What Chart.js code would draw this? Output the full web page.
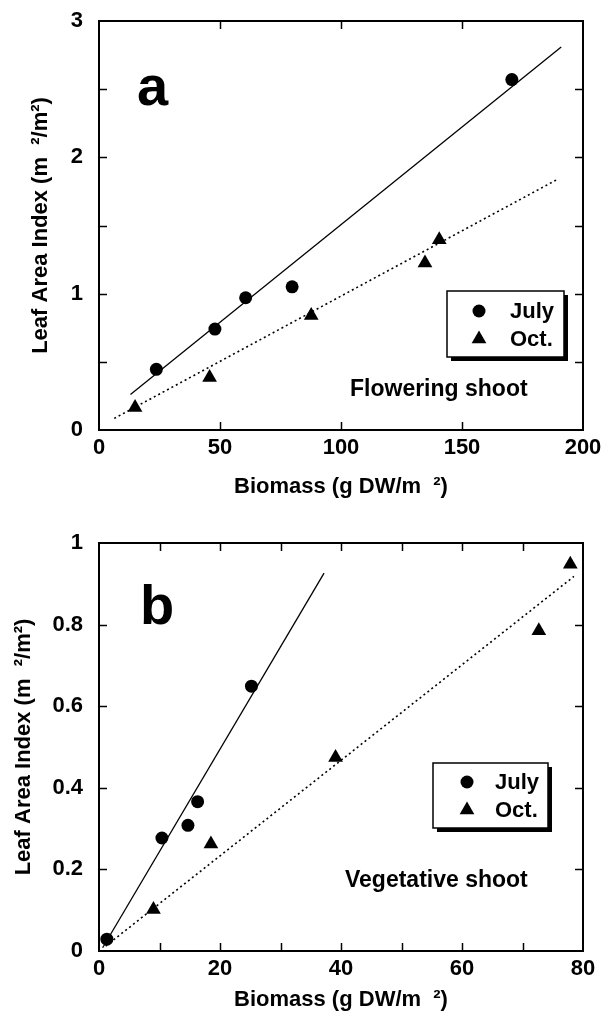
<!DOCTYPE html>
<html>
<head>
<meta charset="utf-8">
<script src="https://cdn.jsdelivr.net/npm/chart.js@4.4.0/dist/chart.umd.min.js"></script>
<style>
  body { margin: 0; background: #fff; }
  canvas { display: block; position: absolute; left: 0; }
  #chartA { top: 0; }
  #chartB { top: 510px; }
</style>
</head>
<body>
<canvas id="chartA" width="601" height="510"></canvas>
<canvas id="chartB" width="601" height="514"></canvas>
<script>
'use strict';

// panel a - flowering shoot
var julyAx = [23.7, 47.9, 60.6, 79.8, 170.6];
var julyAy = [0.445, 0.74, 0.97, 1.05, 2.57];
var octAx = [14.9, 45.7, 87.7, 134.7, 140.6];
var octAy = [0.165, 0.385, 0.84, 1.225, 1.395];
var julyFitAx = [13, 191];
var julyFitAy = [0.26, 2.81];
var octFitAx = [6.3, 189.6];
var octFitAy = [0.085, 1.84];
var xTicksA = [0, 50, 100, 150, 200];
var yTicksA = [0, 1, 2, 3];
var yMinorA = [0.5, 1, 1.5, 2, 2.5];
var xMinorA = [50, 100, 150];

// panel b - vegetative shoot
var julyBx = [1.3, 10.4, 14.7, 16.3, 25.2];
var julyBy = [0.029, 0.277, 0.308, 0.366, 0.649];
var octBx = [9.0, 18.5, 39.1, 72.7, 77.9];
var octBy = [0.102, 0.262, 0.474, 0.785, 0.948];
var julyFitBx = [0.6, 37.2];
var julyFitBy = [0.008, 0.926];
var octFitBx = [1.1, 78.5];
var octFitBy = [0.012, 0.918];
var xTicksB = [0, 20, 40, 60, 80];
var yTicksB = [0, 0.2, 0.4, 0.6, 0.8, 1];
var yMinorB = [0.2, 0.4, 0.6, 0.8];
var xMinorB = [10, 20, 30, 40, 50, 60, 70];

var FONT = '"Liberation Sans", Arial, sans-serif';

function pts(xs, ys) {
    return xs.map(function (x, i) { return { x: x, y: ys[i] }; });
}

function noPad(s) {
    s.paddingTop = 0;
    s.paddingBottom = 0;
    s.paddingLeft = 0;
    s.paddingRight = 0;
}

// frame, inward ticks, panel letter, note and boxed legend
var panelDecor = {
    id: 'panelDecor',
    afterDraw: function (chart, args, o) {
        var ctx = chart.ctx,
            a = chart.chartArea,
            xs = chart.scales.x,
            ys = chart.scales.y;
        ctx.save();
        ctx.strokeStyle = '#000';
        ctx.fillStyle = '#000';

        // ticks
        ctx.lineWidth = 1.5;
        ctx.beginPath();
        o.xMinor.forEach(function (v) {
            var px = Math.round(xs.getPixelForValue(v)) + 0.5;
            ctx.moveTo(px, a.top); ctx.lineTo(px, a.top + 8);
            ctx.moveTo(px, a.bottom); ctx.lineTo(px, a.bottom - 8);
        });
        o.yMinor.forEach(function (v) {
            var py = Math.round(ys.getPixelForValue(v)) + 0.5;
            ctx.moveTo(a.left, py); ctx.lineTo(a.left + 8, py);
            ctx.moveTo(a.right, py); ctx.lineTo(a.right - 8, py);
        });
        ctx.stroke();

        // frame
        ctx.lineWidth = 2;
        ctx.strokeRect(a.left, a.top, a.right - a.left, a.bottom - a.top);

        // panel letter
        ctx.font = 'bold 56px ' + FONT;
        ctx.textBaseline = 'alphabetic';
        ctx.textAlign = 'left';
        ctx.fillText(o.letter, a.left + o.letterPos[0], a.top + o.letterPos[1]);

        // note
        ctx.font = 'bold 23px ' + FONT;
        ctx.textBaseline = 'middle';
        ctx.fillText(o.note, a.left + o.notePos[0], a.top + o.notePos[1]);

        // legend box with shadow
        var lb = o.legendBox,
            bx = a.left + lb.x,
            by = a.top + lb.y;
        ctx.fillRect(bx + 4, by + 4, lb.w, lb.h);
        ctx.fillStyle = '#fff';
        ctx.fillRect(bx, by, lb.w, lb.h);
        ctx.lineWidth = 1.5;
        ctx.strokeRect(bx, by, lb.w, lb.h);
        ctx.fillStyle = '#000';
        ctx.font = 'bold 22px ' + FONT;
        var row = 0;
        chart.data.datasets.forEach(function (ds) {
            if (!ds.pointRadius) return;
            var mx = bx + lb.markX,
                my = by + lb.rows[row],
                r = ds.pointRadius;
            ctx.beginPath();
            if (ds.pointStyle === 'triangle') {
                ctx.moveTo(mx, my - r);
                ctx.lineTo(mx + r * 0.866, my + r / 2);
                ctx.lineTo(mx - r * 0.866, my + r / 2);
                ctx.closePath();
            } else {
                ctx.arc(mx, my, r, 0, Math.PI * 2);
            }
            ctx.fill();
            ctx.fillText(ds.label, bx + lb.textX, my + 1);
            row++;
        });
        ctx.restore();
    }
};

function makeChart(id, p) {
    return new Chart(document.getElementById(id), {
        type: 'scatter',
        data: {
            datasets: [{
                label: 'July',
                data: pts(p.julyX, p.julyY),
                pointStyle: 'circle',
                pointRadius: 6.5,
                pointHoverRadius: 6.5,
                backgroundColor: '#000',
                borderWidth: 0,
                order: 1
            }, {
                label: 'Oct.',
                data: pts(p.octX, p.octY),
                pointStyle: 'triangle',
                pointRadius: 8.5,
                pointHoverRadius: 8.5,
                backgroundColor: '#000',
                borderWidth: 0,
                order: 1
            }, {
                label: 'July fit',
                data: pts(p.julyFitX, p.julyFitY),
                showLine: true,
                pointRadius: 0,
                borderColor: '#000',
                borderWidth: 1.3,
                order: 2
            }, {
                label: 'Oct. fit',
                data: pts(p.octFitX, p.octFitY),
                showLine: true,
                pointRadius: 0,
                borderColor: '#000',
                borderWidth: 1.6,
                borderDash: [2, 3],
                order: 2
            }]
        },
        options: {
            responsive: false,
            animation: false,
            devicePixelRatio: 1,
            layout: { padding: { top: p.padTop, right: 18, left: 0, bottom: 0 } },
            plugins: {
                legend: { display: false },
                tooltip: { enabled: false },
                panelDecor: p.decor
            },
            scales: {
                x: {
                    type: 'linear',
                    min: p.xTicks[0],
                    max: p.xTicks[p.xTicks.length - 1],
                    afterBuildTicks: function (s) {
                        s.ticks = p.xTicks.map(function (v) { return { value: v }; });
                    },
                    afterFit: function (s) { s.height = p.xHeight; noPad(s); },
                    grid: { display: false, drawTicks: false },
                    border: { display: false },
                    ticks: {
                        color: '#000',
                        padding: 5,
                        maxRotation: 0,
                        callback: function (v) { return String(v); },
                        font: { family: FONT, size: 22, weight: 'bold' }
                    },
                    title: {
                        display: true,
                        text: 'Biomass (g DW/m  \u00b2)',
                        color: '#000',
                        padding: { top: 0, bottom: p.xTitlePad },
                        font: { family: FONT, size: 22, weight: 'bold' }
                    }
                },
                y: {
                    type: 'linear',
                    min: p.yTicks[0],
                    max: p.yTicks[p.yTicks.length - 1],
                    afterBuildTicks: function (s) {
                        s.ticks = p.yTicks.map(function (v) { return { value: v }; });
                    },
                    afterFit: function (s) { s.width = 99; noPad(s); },
                    grid: { display: false, drawTicks: false },
                    border: { display: false },
                    ticks: {
                        color: '#000',
                        padding: 16,
                        callback: function (v) { return String(v); },
                        font: { family: FONT, size: 22, weight: 'bold' }
                    },
                    title: {
                        display: true,
                        text: 'Leaf Area Index (m  \u00b2/m\u00b2)',
                        color: '#000',
                        padding: { top: p.yTitlePad, bottom: 0 },
                        font: { family: FONT, size: 22, weight: 'bold' }
                    }
                }
            }
        },
        plugins: [panelDecor]
    });
}

makeChart('chartA', {
    julyX: julyAx, julyY: julyAy, octX: octAx, octY: octAy,
    julyFitX: julyFitAx, julyFitY: julyFitAy, octFitX: octFitAx, octFitY: octFitAy,
    xTicks: xTicksA, yTicks: yTicksA,
    padTop: 21, xHeight: 80, xTitlePad: 10, yTitlePad: 28,
    decor: {
        xMinor: xMinorA, yMinor: yMinorA,
        letter: 'a', letterPos: [38, 84],
        note: 'Flowering shoot', notePos: [251, 369],
        legendBox: { x: 348, y: 270, w: 117, h: 66, markX: 32, textX: 63, rows: [20, 48] }
    }
});

makeChart('chartB', {
    julyX: julyBx, julyY: julyBy, octX: octBx, octY: octBy,
    julyFitX: julyFitBx, julyFitY: julyFitBy, octFitX: octFitBx, octFitY: octFitBy,
    xTicks: xTicksB, yTicks: yTicksB,
    padTop: 33, xHeight: 73, xTitlePad: 11, yTitlePad: 11,
    decor: {
        xMinor: xMinorB, yMinor: yMinorB,
        letter: 'b', letterPos: [41, 81],
        note: 'Vegetative shoot', notePos: [246, 338],
        legendBox: { x: 334, y: 220, w: 115, h: 65, markX: 34, textX: 62, rows: [19, 47] }
    }
});
</script>
</body>
</html>
